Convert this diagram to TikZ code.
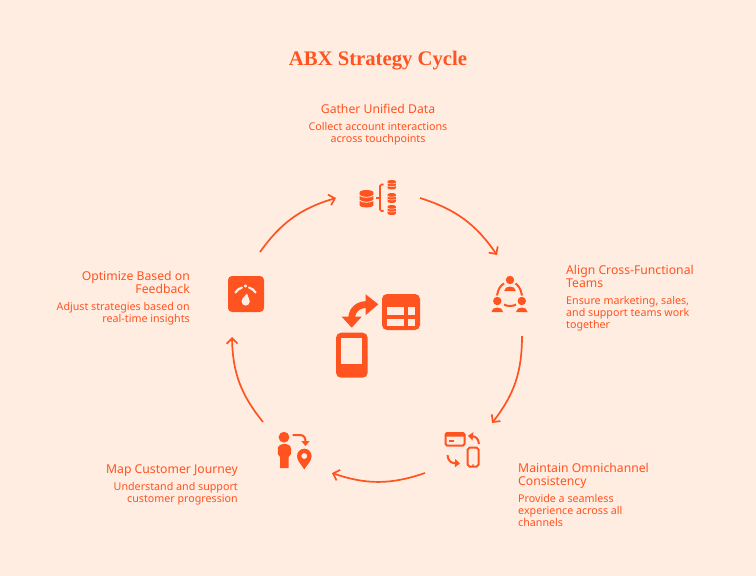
\documentclass[tikz,border=0pt]{standalone}
\usepackage{fontspec}
\usetikzlibrary{arrows.meta,calc}
\setmainfont{Noto Sans}
\newfontfamily\titlefont{Liberation Serif}
\definecolor{abxbg}{HTML}{FFEDE2}
\definecolor{abxor}{HTML}{FF5320}
\tikzset{
  headtext/.style={text=abxor,inner sep=0pt,font=\fontsize{12.2}{13}\selectfont},
  bodytext/.style={text=abxor,inner sep=0pt,font=\fontsize{10.7}{12}\selectfont},
  cyclearrow/.style={draw=abxor,line width=1.7pt,bend left=19,-{Straight Barb[length=5.5pt,width=11pt,line width=1.7pt]}},
  iconline/.style={draw=abxor,line width=2pt},
  smallarrow/.style={draw=abxor,line width=2pt,-{Triangle[length=5pt,width=8pt]}}
}
\newcommand{\abxcyl}[5]{%
  \fill[abxor] ({#1-#3},{#2+#4*0.14}) arc[x radius=#3,y radius={#4*0.14},start angle=180,end angle=360] -- ({#1+#3},{#2+#4*0.86}) arc[x radius=#3,y radius={#4*0.14},start angle=0,end angle=180] -- cycle;
  \draw[abxbg,line width=#5pt] ({#1-#3-.5},{#2+#4*0.30}) .. controls ({#1-#3*.5},{#2+#4*0.46}) and ({#1+#3*.5},{#2+#4*0.46}) .. ({#1+#3+.5},{#2+#4*0.30});
  \draw[abxbg,line width=#5pt] ({#1-#3-.5},{#2+#4*0.58}) .. controls ({#1-#3*.5},{#2+#4*0.74}) and ({#1+#3*.5},{#2+#4*0.74}) .. ({#1+#3+.5},{#2+#4*0.58});
}
\newcommand{\abxperson}[3]{%
  \fill[abxor] (#1,#2) circle[radius=#3];
  \fill[abxor] ({#1-5.8},{#2+11}) .. controls ({#1-5.6},{#2+5}) and ({#1+5.6},{#2+5}) .. ({#1+5.8},{#2+11}) -- cycle;
}
\begin{document}
\begin{tikzpicture}[x=1pt,y=-1pt]
\fill[abxbg] (0,0) rectangle (756,576);
\useasboundingbox (0,0) rectangle (756,576);

\node[inner sep=0pt,text=abxor,font=\titlefont\bfseries\fontsize{20.7}{24}\selectfont] (title) at (378,60.5) {ABX Strategy Cycle};

% labels
\node[headtext,anchor=center,align=center] (h1) at (378,109) {Gather Unified Data};
\node[bodytext,anchor=north,align=center] (b1) at (378,122) {Collect account interactions\\across touchpoints};
\node[headtext,anchor=north west,align=left] (h2) at (566,265.5) {Align Cross-Functional\\Teams};
\node[bodytext,anchor=north west,align=left] (b2) at (566,296) {Ensure marketing, sales,\\and support teams work\\together};
\node[headtext,anchor=north west,align=left] (h3) at (518,463) {Maintain Omnichannel\\Consistency};
\node[bodytext,anchor=north west,align=left] (b3) at (518,494) {Provide a seamless\\experience across all\\channels};
\node[headtext,anchor=north east,align=right] (h4) at (238,464) {Map Customer Journey};
\node[bodytext,anchor=north east,align=right] (b4) at (238,482) {Understand and support\\customer progression};
\node[headtext,anchor=north east,align=right] (h5) at (190,271.5) {Optimize Based on\\Feedback};
\node[bodytext,anchor=north east,align=right] (b5) at (190,302) {Adjust strategies based on\\real-time insights};

% cycle connectors
\coordinate (a1) at (420,198); \coordinate (a2) at (497,255);
\coordinate (a3) at (522,336); \coordinate (a4) at (492,423);
\coordinate (a5) at (425,473); \coordinate (a6) at (332,473);
\coordinate (a7) at (263,422); \coordinate (a8) at (232,337);
\coordinate (a9) at (260,252); \coordinate (a10) at (336,198);
\draw[cyclearrow] (a1) to (a2);
\draw[cyclearrow] (a3) to (a4);
\draw[cyclearrow] (a5) to (a6);
\draw[cyclearrow] (a7) to (a8);
\draw[cyclearrow] (a9) to (a10);

% icon 1: data
\abxcyl{366.5}{190}{6.9}{17.5}{0.8}
\abxcyl{391.7}{180}{4.2}{9.5}{0.5}
\abxcyl{391.7}{193}{4.2}{10}{0.5}
\abxcyl{391.7}{205}{4.2}{10}{0.5}
\draw[iconline,line width=1.7pt] (383.5,184.5) -- (381.5,184.5) arc[radius=1.5,start angle=270,end angle=180] -- (380,209.5) arc[radius=1.5,start angle=180,end angle=90] -- (383.5,211);
\draw[iconline,line width=1.7pt] (376,198) -- (380,198);

% icon 2: team
\abxperson{510}{280}{4.2}
\abxperson{497.3}{301}{4.2}
\abxperson{521.8}{301}{4.2}
\draw[iconline] (497,295.5) .. controls (498,289) and (501,285) .. (504,283.5);
\draw[iconline] (522,295.5) .. controls (521,289) and (518,285) .. (515.5,283.5);
\draw[iconline] (504,304.5) .. controls (507,306.5) and (513,306.5) .. (516,304.5);

% icon 3: omnichannel
\draw[iconline,rounded corners=1.5pt] (445.5,433) rectangle (464.5,445.5);
\fill[abxor,rounded corners=1pt] (445,432.5) rectangle (465,436.5);
\fill[abxor] (448.5,440) rectangle (454,441.8);
\draw[iconline,rounded corners=1.8pt] (467.7,447.7) rectangle (478.5,466.5);
\fill[abxor] (473,465) circle[radius=1];
\draw[smallarrow] (479,444) .. controls (478.5,438) and (475,436.5) .. (468,435.8);
\draw[smallarrow] (447.5,455) .. controls (448,461) and (451,463) .. (460,463.5);

% icon 4: journey
\fill[abxor] (284,437.2) circle[radius=5.4];
\fill[abxor] (280.2,468) -- (280.2,457) -- (277.8,454) -- (277.8,449) .. controls (277.8,445.5) and (281,444) .. (284.4,444) .. controls (288,444) and (291,445.5) .. (291,449) -- (291,454) -- (288.6,457) -- (288.6,468) -- cycle;
\draw[smallarrow] (292.5,435) -- (300,435) .. controls (304,435) and (305.5,438) .. (305.5,446);
\fill[abxor,even odd rule] (304.3,469.5) .. controls (301,464) and (297,461) .. (297,456) arc[radius=7.3,start angle=180,end angle=360] .. controls (311.6,461) and (307.6,464) .. (304.3,469.5) -- cycle (304.3,456) circle[radius=3];

% icon 5: gauge
\fill[abxor,rounded corners=4pt] (228,276) rectangle (264,312);
\draw[draw=abxbg,line width=2.2pt,line cap=round] (235.5,292.5) .. controls (237,290) and (239,288.5) .. (242,287.5);
\draw[draw=abxbg,line width=2.2pt,line cap=round] (245.5,285.5) -- (245.5,286.5);
\draw[draw=abxbg,line width=2.2pt,line cap=round] (249,287.5) .. controls (252,288.5) and (254,290) .. (255.5,292.5);
\fill[abxbg] (247,293.5) .. controls (247.5,297) and (249.8,298.5) .. (249.8,301.5) arc[radius=4.1,start angle=0,end angle=180] .. controls (241.6,298) and (245,296.5) .. (247,293.5) -- cycle;

% centre icon
\fill[abxor,rounded corners=5pt] (382,294) rectangle (420,330);
\fill[abxbg] (387.3,306.7) rectangle (404.3,315);
\fill[abxbg] (387.3,319) rectangle (404.3,325.7);
\fill[abxbg] (407.7,306.7) rectangle (415,315);
\fill[abxbg] (407.7,319) rectangle (415,325.7);
\fill[abxor,rounded corners=5pt] (336,332.7) rectangle (367.7,377.7);
\fill[abxbg] (341,338.3) rectangle (362.3,364);
\draw[abxor,line width=6.8pt] (367,304.5) .. controls (359,304.5) and (352,309) .. (351.7,318);
\fill[abxor] (378.3,304.3) -- (365.7,294.3) -- (365.7,315) -- cycle;
\fill[abxor] (351.7,327.7) -- (341.7,316.7) -- (361.7,316.7) -- cycle;
\end{tikzpicture}
\end{document}
